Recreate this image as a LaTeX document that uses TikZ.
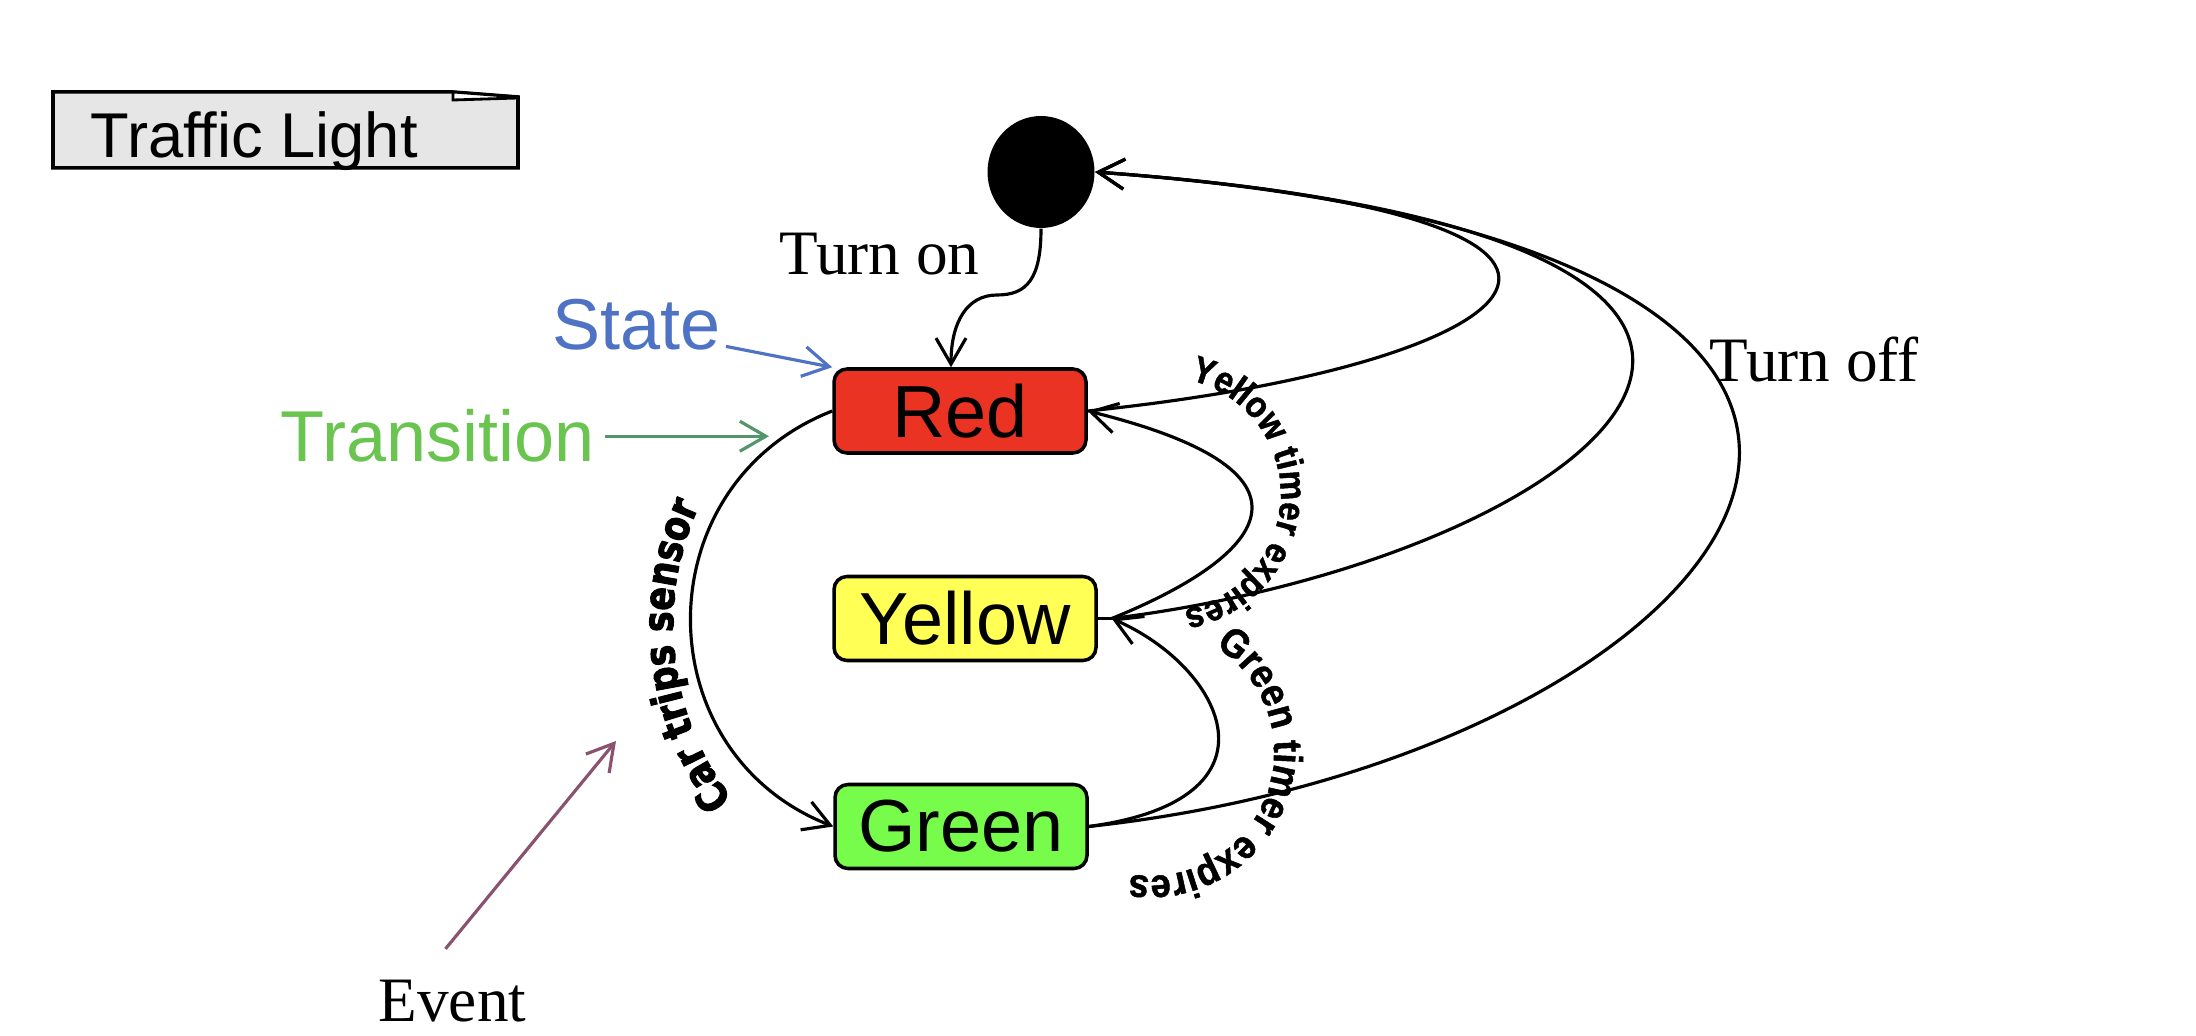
\documentclass[tikz,border=0pt]{standalone}
\usepackage{fontspec}
\setmainfont{Liberation Serif}
\setsansfont{Liberation Sans}
\newfontfamily\arcfont{Liberation Sans Bold}[FakeStretch=0.9,FakeBold=1.2]
\newfontfamily\heavyfont{DejaVu Sans Bold}[FakeStretch=0.82,FakeBold=2.5]
\usetikzlibrary{arrows.meta,shapes.geometric,positioning,decorations.text}

\definecolor{lampred}{RGB}{234,51,35}
\definecolor{lampyellow}{RGB}{255,255,85}
\definecolor{lampgreen}{RGB}{119,252,75}
\definecolor{notegray}{RGB}{230,230,230}
\definecolor{stateblue}{RGB}{78,114,196}
\definecolor{transgreen}{RGB}{106,196,80}
\definecolor{transdark}{RGB}{82,150,105}
\definecolor{eventplum}{RGB}{139,82,112}

\newcommand\lampfont{\sffamily\fontsize{21}{25}\selectfont}
\newcommand\notefont{\sffamily\fontsize{18}{22}\selectfont}
\newcommand\hintfont{\sffamily\fontsize{20.5}{24}\selectfont}
\newcommand\serifbig{\rmfamily\fontsize{18}{22}\selectfont}
\newcommand\timerfont{\arcfont\fontsize{10.5}{12}\selectfont}
\newcommand\timerbig{\arcfont\fontsize{11.5}{13}\selectfont}
\newcommand\carfont{\heavyfont\fontsize{12}{14}\selectfont}

\tikzset{
  lamp/.style={draw,line width=1pt,rounded corners=1.3mm,minimum width=2.52cm,
    minimum height=0.84cm,inner sep=0pt,font=\lampfont},
  trans/.style={line width=0.9pt,-{Straight Barb[length=2.6mm,width=3mm]}},
  hint/.style={line width=0.9pt,-{Straight Barb[length=2.6mm,width=3mm]}},
  arclabel/.style={decorate,decoration={text along path,text align=center,text={#1}}}
}

\begin{document}
\begin{tikzpicture}
\fill[white] (0,0) rectangle (21.96,10.36);
\useasboundingbox (0,0) rectangle (21.96,10.36);
% frame
\draw[line width=1pt,fill=notegray] (0.53,8.68) -- (0.53,9.44) -- (4.53,9.44)
  -- (5.18,9.39) -- (5.18,8.68) -- cycle;
\draw[line width=0.8pt,fill=white] (4.53,9.44) -- (5.18,9.39) -- (5.18,9.38) -- (4.53,9.36) -- cycle;
\node[anchor=base west,font=\notefont,inner sep=0pt] (frame) at (0.90,8.78) {Traffic Light};

% states
\node[ellipse,fill=black,minimum width=1.07cm,minimum height=1.12cm,inner sep=0pt] (init) at (10.41,8.64) {};
\node[lamp,fill=lampred] (Red) at (9.60,6.25) {Red};
\node[lamp,fill=lampyellow,minimum width=2.62cm] (Yellow) at (9.65,4.175) {Yellow};
\node[lamp,fill=lampgreen] (Green) at (9.61,2.095) {Green};
\coordinate (yin) at ([xshift=1.4mm]Yellow.east);
\coordinate (onbend) at (9.97,7.41);

% labels
\node[anchor=base west,font=\serifbig,inner sep=0pt] (turnon) at (7.79,7.61) {Turn on};
\node[anchor=base west,font=\serifbig,inner sep=0pt] (turnoff) at (17.09,6.54) {Turn off};
\node[anchor=base east,font=\hintfont,text=stateblue,inner sep=0.5mm] (stateLbl) at (7.26,6.86) {State};
\node[anchor=base west,font=\hintfont,text=transgreen,inner sep=1mm] (transLbl) at (2.70,5.74) {Transition};
\node[anchor=base west,font=\serifbig,inner sep=2mm] (eventLbl) at (3.58,0.14) {Event};
\coordinate (transtip) at (7.69,6.0);
\coordinate (evtip) at (6.16,2.95);

% transitions
\draw[trans] (init.south) .. controls +(0,-0.5) and +(0.3,0) .. (onbend)
  .. controls +(-0.3,0) and +(0,0.45) .. ([xshift=-0.9mm]Red.north);
\draw[trans] (Red.west) .. controls +(-1.89,-0.74) and +(-1.89,0.74) .. (Green.west);
\draw[line width=0.9pt] (Yellow.east) -- (yin);
\draw[trans] (yin) .. controls +(1.48,0.60) and +(2.54,-0.63) .. (Red.east);
\draw[trans] (Green.east) .. controls +(2.01,0.27) and +(1.12,-0.49) .. (yin);
\draw[trans] (Red.east) .. controls +(4.50,0.46) and +(6.26,-0.46) .. (init.east);
\draw[trans] (yin) .. controls +(4.99,0.62) and +(8.88,-0.65) .. (init.east);
\draw[trans] (Green.east) .. controls +(6.65,0.72) and +(10.38,-0.76) .. (init.east);

% events on the transitions
\path[arclabel={|\carfont|Car trips sensor}] (9.58,4.11) ++(225:2.85) arc[start angle=225,end angle=148,radius=2.85];
\path[arclabel={|\timerfont|Yellow timer expires}] (11.636,5.418) ++(100:1.17) arc[start angle=100,end angle=-103,radius=1.17];
\path[arclabel={|\timerbig|Green timer expires}] (11.50,2.84) ++(75:1.24) arc[start angle=75,end angle=-116,radius=1.24];

% hints
\draw[hint,stateblue] ([yshift=1mm]stateLbl.south east) -- (Red.north west);
\draw[hint,transdark] (transLbl.east) -- (transLbl.east -| transtip);
\draw[hint,eventplum] ([xshift=-0.7mm,yshift=1.1mm]eventLbl.north) -- (evtip);
\end{tikzpicture}
\end{document}
